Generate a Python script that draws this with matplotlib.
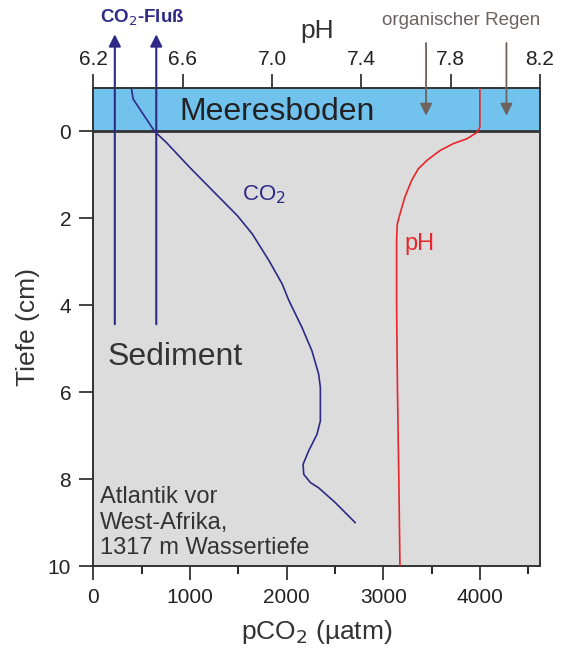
import matplotlib.pyplot as plt

plt.rcParams['font.family'] = ['Liberation Sans', 'DejaVu Sans']

# CO2 profile (pCO2 in µatm, depth in cm)
co2_depth = [-0.98, -0.75, -0.52, 0.0, 0.25, 0.82, 1.44, 1.94, 2.36, 2.97, 3.51, 3.89,
             4.51, 5.05, 5.58, 5.89, 6.66, 6.97, 7.35, 7.66, 7.89, 8.08, 8.20, 8.54, 9.0]
co2_val = [394, 410, 478, 633, 753, 993, 1268, 1490, 1644, 1816, 1953, 2022,
           2158, 2261, 2330, 2348, 2348, 2313, 2227, 2169, 2176, 2245, 2330, 2502, 2708]

# pH profile
ph_depth = [-0.98, -0.1, 0.02, 0.17, 0.28, 0.44, 0.67, 0.86, 1.13, 1.51, 1.90, 2.13,
            2.51, 4.0, 6.0, 8.0, 10.0]
ph_val = [7.931, 7.931, 7.919, 7.872, 7.812, 7.752, 7.693, 7.655, 7.625, 7.595, 7.573,
          7.561, 7.558, 7.558, 7.562, 7.568, 7.573]

flux_x = [221, 650]
rain_ph = [7.69, 8.05]

navy = '#2e2a86'
red = '#e8262a'
brown = '#6e625d'
dark = '#333333'

fig = plt.figure(figsize=(5.63, 6.5), dpi=100)
ax = fig.add_axes([0.166, 0.1292, 0.793, 0.7354])
ax.set_facecolor('#dcdcdc')
ax.set_xlim(0, 4620)
ax.set_ylim(10, -1)
ax.axhspan(-1, 0, color='#72c2ee', zorder=0)
ax.axhline(0, color=dark, lw=2, zorder=3)

ax.plot(co2_val, co2_depth, color=navy, lw=1.2, zorder=4)

ax.set_xticks([0, 1000, 2000, 3000, 4000])
ax.set_xticks([500, 1500, 2500, 3500, 4500], minor=True)
ax.set_yticks([0, 2, 4, 6, 8, 10])
ax.tick_params(labelsize=15, colors='#222222', length=10, width=1.2, pad=6)
ax.tick_params(which='minor', length=6, width=1.2)
ax.set_xlabel('pCO$_2$ (µatm)', fontsize=19, color=dark, labelpad=8)
ax.set_ylabel('Tiefe (cm)', fontsize=19, color=dark, labelpad=6)
for s in ax.spines.values():
    s.set_color(dark)
    s.set_linewidth(1.2)

ax2 = ax.twiny()
ax2.set_xlim(6.2, 8.2)
ax2.plot(ph_val, ph_depth, color=red, lw=1.2, zorder=4)
ax2.set_xticks([6.2, 6.6, 7.0, 7.4, 7.8, 8.2])
ax2.set_xticklabels(['6.2', '6.6', '7.0', '7.4', '7.8', '8.2'])
ax2.tick_params(labelsize=15, colors='#222222', length=10, width=1.2, pad=4)
ax2.set_xlabel('pH', fontsize=19, color=dark, labelpad=8)
for s in ax2.spines.values():
    s.set_color(dark)
    s.set_linewidth(1.2)

# CO2 flux arrows
for x in flux_x:
    ax.annotate('', xy=(x, -2.3), xytext=(x, 4.5), annotation_clip=False,
                arrowprops=dict(arrowstyle='-|>', color=navy, lw=1.5, mutation_scale=18))
ax.text(0.015, 1.146, 'CO$_2$-Fluß', transform=ax.transAxes, color=navy,
        fontsize=13.5, fontweight='bold', ha='left', va='center')

# organic rain arrows
for p in rain_ph:
    ax2.annotate('', xy=(p, -0.3), xytext=(p, -2.1), annotation_clip=False,
                 arrowprops=dict(arrowstyle='-|>', color=brown, lw=1.3, mutation_scale=18))
ax.text(0.823, 1.142, 'organischer Regen', transform=ax.transAxes, color=brown,
        fontsize=13.5, ha='center', va='center')

ax.text(1900, -0.45, 'Meeresboden', fontsize=23, color='#222222',
        ha='center', va='center')
ax.text(1540, 1.45, 'CO$_2$', color=navy, fontsize=16, ha='left', va='center')
ax2.text(7.595, 2.6, 'pH', color=red, fontsize=17, ha='left', va='center')
ax.text(150, 5.2, 'Sediment', fontsize=23, color=dark, ha='left', va='center')
ax.text(70, 9.0, 'Atlantik vor\nWest-Afrika,\n1317 m Wassertiefe', fontsize=17,
        color=dark, ha='left', va='center', linespacing=1.2)

fig.savefig('out.png', dpi=100)
